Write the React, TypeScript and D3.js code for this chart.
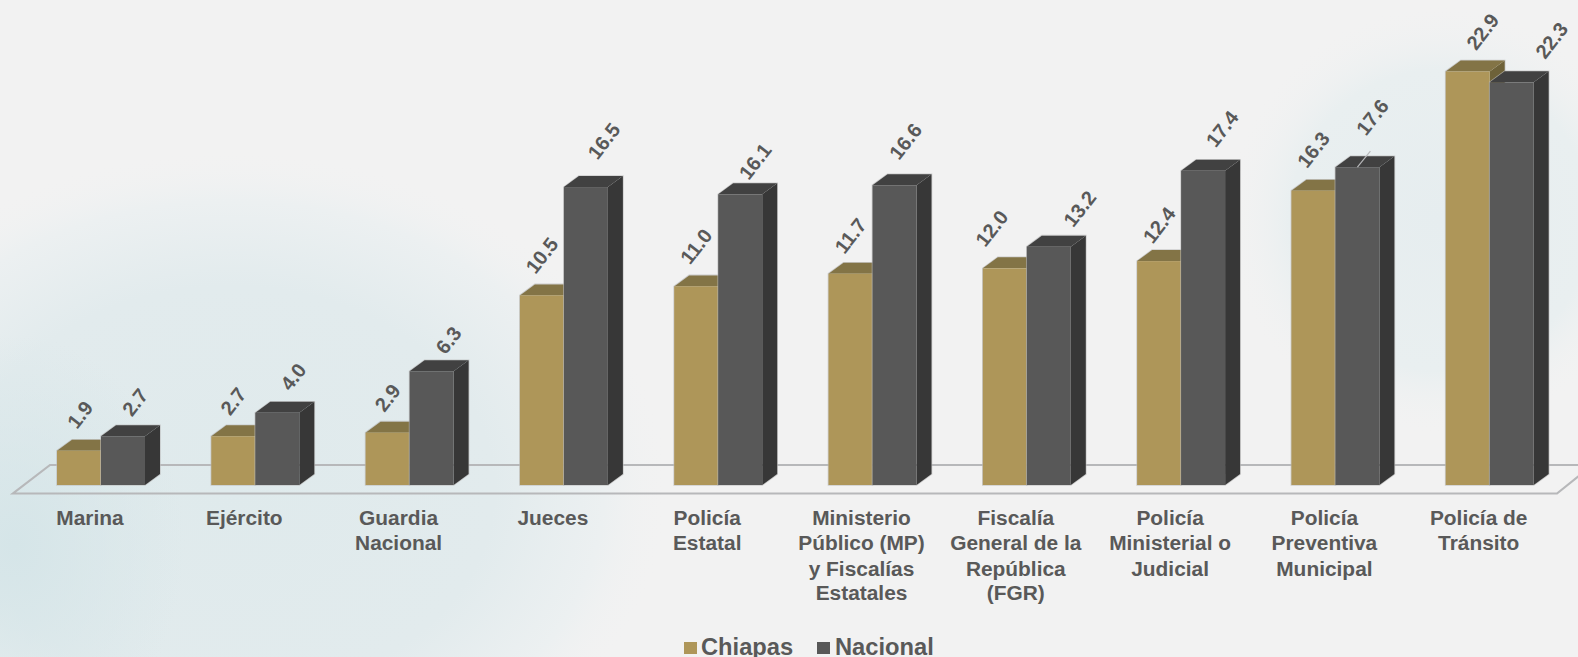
import * as d3 from 'd3'

const categories = [
  ['Marina'],
  ['Ejército'],
  ['Guardia', 'Nacional'],
  ['Jueces'],
  ['Policía', 'Estatal'],
  ['Ministerio', 'Público (MP)', 'y Fiscalías', 'Estatales'],
  ['Fiscalía', 'General de la', 'República', '(FGR)'],
  ['Policía', 'Ministerial o', 'Judicial'],
  ['Policía', 'Preventiva', 'Municipal'],
  ['Policía de', 'Tránsito'],
]
const chiapas = [1.9, 2.7, 2.9, 10.5, 11.0, 11.7, 12.0, 12.4, 16.3, 22.9]
const nacional = [2.7, 4.0, 6.3, 16.5, 16.1, 16.6, 13.2, 17.4, 17.6, 22.3]

// labels were dragged by hand in the original, so each one has its own offset
const chiapasLabelOffset = [[1, -36], [0, -35], [0, -35], [0, -40], [0, -40], [0, -38], [-13, -40], [0, -36], [0, -41], [15, -40]]
const nacionalLabelOffset = [[12, -34], [16, -36], [17, -31], [18, -46], [15, -33], [11, -44], [31, -38], [19, -42], [15, -50], [40, -42]]

const width = 1578
const height = 657
const baseY = 485
const depthX = 15
const depthY = 11

const x = d3.scaleBand<number>()
  .domain(d3.range(categories.length))
  .range([57, 1533.7])
  .paddingInner(0.4297)
  .paddingOuter(0)

const y = d3.scaleLinear().domain([0, 22.9]).range([baseY, 71.5])

const line = d3.line()

const TAN = { front: '#ae9659', top: '#837446', side: '#6e6239' }
const GREY = { front: '#585858', top: '#414141', side: '#373737' }

function Bar({ x0, w, top, colors }: { x0: number; w: number; top: number; colors: typeof TAN }) {
  const x1 = x0 + w
  const outline = line([
    [x0, top], [x0 + depthX, top - depthY], [x1 + depthX, top - depthY],
    [x1 + depthX, baseY - depthY], [x1, baseY], [x0, baseY],
  ])! + 'Z'
  return (
    <g>
      <path d={outline} fill="none" stroke="#bcbcbc" strokeWidth={1.6} strokeOpacity={0.7} />
      <path d={line([[x1, top], [x1 + depthX, top - depthY], [x1 + depthX, baseY - depthY], [x1, baseY]])!} fill={colors.side} />
      <path d={line([[x0, top], [x0 + depthX, top - depthY], [x1 + depthX, top - depthY], [x1, top]])!} fill={colors.top} />
      <rect x={x0} y={top} width={w} height={baseY - top} fill={colors.front} />
    </g>
  )
}

export default function App() {
  const w = x.bandwidth() / 2
  const font = '"Liberation Sans", Arial, sans-serif'
  return (
    <svg width={width} height={height} style={{ position: 'fixed', left: 0, top: 0 }} fontFamily={font}>
      <defs>
        <radialGradient id="bgLeft" gradientUnits="userSpaceOnUse" cx="0" cy="0" r="1" gradientTransform="translate(230 490) scale(440 340)">
          <stop offset="0" stopColor="#dfeaec" />
          <stop offset="0.6" stopColor="#e2ebed" />
          <stop offset="0.85" stopColor="#ecf0f1" />
          <stop offset="1" stopColor="#f2f2f2" stopOpacity="0" />
        </radialGradient>
        <radialGradient id="bgSpot" gradientUnits="userSpaceOnUse" cx="0" cy="0" r="1" gradientTransform="translate(15 545) scale(170 210)">
          <stop offset="0" stopColor="#d5e5e8" />
          <stop offset="1" stopColor="#d5e5e8" stopOpacity="0" />
        </radialGradient>
        <radialGradient id="bgRight" gradientUnits="userSpaceOnUse" cx="0" cy="0" r="1" gradientTransform="translate(1440 220) scale(215 215)">
          <stop offset="0" stopColor="#e6edef" />
          <stop offset="0.7" stopColor="#e9eff0" />
          <stop offset="1" stopColor="#f2f2f2" stopOpacity="0" />
        </radialGradient>
      </defs>
      <rect width={width} height={height} fill="#f2f2f2" />
      <rect width={width} height={height} fill="url(#bgRight)" />
      <rect width={width} height={height} fill="url(#bgLeft)" />
      <rect width={width} height={height} fill="url(#bgSpot)" />

      <path
        d={line([[1590, 465], [50, 465], [13, 493.5], [1557, 493.5], [1590, 467]])!}
        fill="none" stroke="#b7b8ba" strokeWidth={2.2}
      />

      {categories.map((_, i) => {
        const x0 = x(i)!
        return (
          <g key={i}>
            <Bar x0={x0} w={w} top={y(chiapas[i])} colors={TAN} />
            <Bar x0={x0 + w} w={w} top={y(nacional[i])} colors={GREY} />
          </g>
        )
      })}

      {/* leader line of the 17.6 label */}
      <path d={line([[x(8)! + w * 1.5, y(nacional[8])], [x(8)! + w * 1.5 + 13, y(nacional[8]) - 16]])!} stroke="#b7b8ba" strokeWidth={1.2} fill="none" />

      <g fontSize={20} fontWeight={700} fill="#595959" textAnchor="middle">
        {chiapas.map((v, i) => {
          const [dx, dy] = chiapasLabelOffset[i]
          return (
            <text key={i} dy="0.35em" transform={`translate(${x(i)! + w / 2 + dx},${y(v) + dy}) rotate(-52)`}>{d3.format('.1f')(v)}</text>
          )
        })}
        {nacional.map((v, i) => {
          const [dx, dy] = nacionalLabelOffset[i]
          return (
            <text key={i} dy="0.35em" transform={`translate(${x(i)! + w * 1.5 + dx},${y(v) + dy}) rotate(-52)`}>{d3.format('.1f')(v)}</text>
          )
        })}
      </g>

      <g fontSize={20.9} fontWeight={700} fill="#595959" textAnchor="middle">
        {categories.map((lines, i) => (
          <text key={i} y={525}>
            {lines.map((t, j) => (
              <tspan key={j} x={x(i)! + w - 11} dy={j === 0 ? 0 : j === 3 ? 24 : 25.3}>{t}</tspan>
            ))}
          </text>
        ))}
      </g>

      <g fontSize={23.7} fontWeight={700} fill="#595959">
        <rect x={684} y={642} width={13} height={12} fill={TAN.front} />
        <text x={701} y={655}>Chiapas</text>
        <rect x={817} y={642} width={13} height={12} fill={GREY.front} />
        <text x={835} y={655}>Nacional</text>
      </g>
    </svg>
  )
}
